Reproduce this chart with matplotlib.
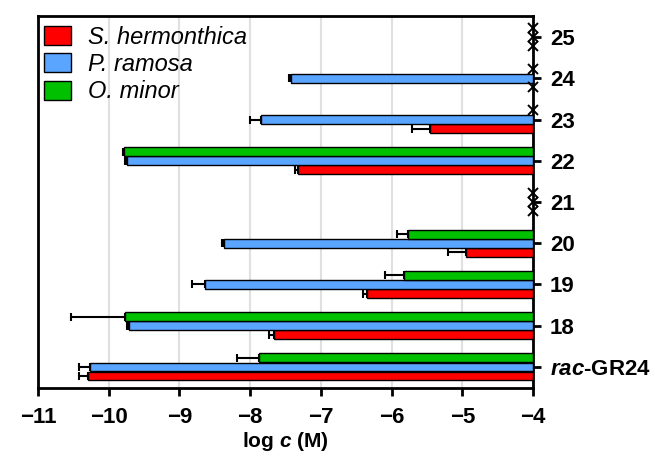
import numpy as np
import matplotlib
matplotlib.use('Agg')
import matplotlib.pyplot as plt
from matplotlib.patches import Patch

plt.rcParams['font.family'] = ['Liberation Sans', 'DejaVu Sans']
plt.rcParams['mathtext.fontset'] = 'custom'
plt.rcParams['mathtext.it'] = 'Liberation Sans:italic:bold'
plt.rcParams['mathtext.rm'] = 'Liberation Sans:bold'

nan = np.nan
compounds = [r'$\it{rac}$-GR24', '18', '19', '20', '21', '22', '23', '24', '25']
species = ['S. hermonthica', 'P. ramosa', 'O. minor']
colors = ['#ff0000', '#5aa5ff', '#00c000']

# log c values (NaN = no activity, marked with x)
s_herm = [-10.30, -7.67, -6.35, -4.95, nan, -7.32, -5.46, nan, nan]
s_herm_err = [0.12, 0.07, 0.05, 0.25, nan, 0.05, 0.25, nan, nan]
p_ram = [-10.27, -9.71, -8.64, -8.37, nan, -9.74, -7.85, -7.42, nan]
p_ram_err = [0.15, 0.03, 0.18, 0.03, nan, 0.03, 0.16, 0.03, nan]
o_min = [-7.87, -9.77, -5.83, -5.77, nan, -9.78, nan, nan, nan]
o_min_err = [0.32, 0.77, 0.27, 0.16, nan, 0.02, nan, nan, nan]

values = [s_herm, p_ram, o_min]
errors = [s_herm_err, p_ram_err, o_min_err]
offsets = [-0.22, 0.0, 0.22]
base = -4
h = 0.215

fig = plt.figure(figsize=(6.55, 4.57), dpi=100)
ax = fig.add_axes([0.058, 0.151, 0.756, 0.814])

y = np.arange(len(compounds))
for vals, errs, off, c in zip(values, errors, offsets, colors):
    vals = np.array(vals)
    errs = np.array(errs)
    ok = ~np.isnan(vals)
    ax.barh(y[ok] + off, vals[ok] - base, left=base, height=h,
            color=c, edgecolor='black', linewidth=1, zorder=3)
    ax.errorbar(vals[ok], y[ok] + off, xerr=[errs[ok], np.zeros(ok.sum())],
                fmt='none', ecolor='black', elinewidth=1.5, capsize=3,
                capthick=1.5, zorder=2)
    ax.plot(np.full((~ok).sum(), base), y[~ok] + off, 'x', color='black',
            markersize=7.5, mew=1.4, clip_on=False, zorder=5)

ax.set_xlim(-11, -4)
ax.set_ylim(-0.51, 8.51)
ax.set_xticks(range(-11, -3))
ax.set_yticks(y)
ax.set_yticklabels(compounds)
ax.yaxis.tick_right()
ax.tick_params(axis='both', direction='out', length=6, width=2,
               labelsize=16, pad=8)
ax.tick_params(axis='y', pad=6)
for lab in ax.get_xticklabels() + ax.get_yticklabels():
    lab.set_fontweight('bold')
ax.set_xlabel(r'log $\it{c}$ (M)', fontsize=15, fontweight='bold', labelpad=1)
ax.grid(axis='x', color='#e0e0e0', linewidth=1.5, zorder=0)
ax.set_axisbelow(True)
for s in ax.spines.values():
    s.set_linewidth(2)

handles = [Patch(facecolor=c, edgecolor='black', linewidth=1) for c in colors]
leg = ax.legend(handles, species, loc='upper left', bbox_to_anchor=(-0.022, 1.018),
                frameon=False, fontsize=17, handlelength=1.15, handleheight=0.85,
                handletextpad=0.75, labelspacing=0.18, borderaxespad=0.3)
for t in leg.get_texts():
    t.set_fontstyle('italic')

fig.savefig('out.png', dpi=100)
